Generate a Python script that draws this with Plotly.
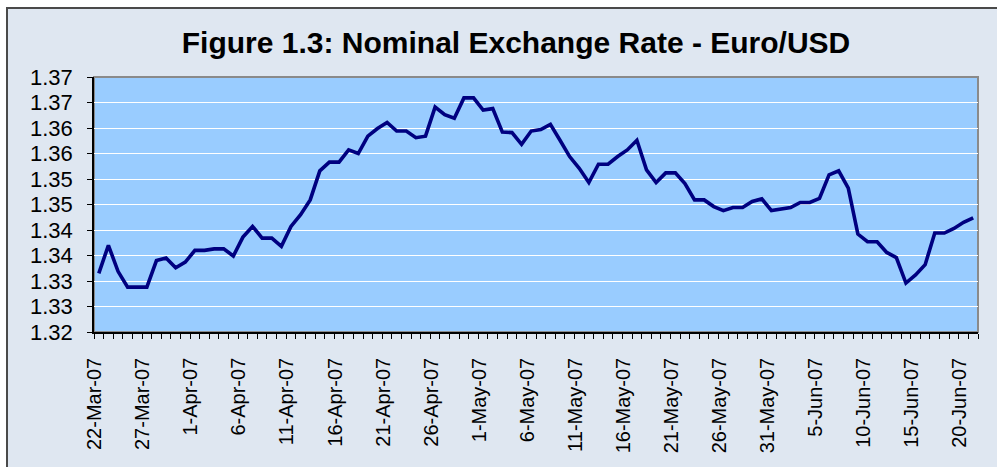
import pandas as pd
import plotly.graph_objects as go

# ---- data ----
dates = pd.date_range("2007-03-22", periods=92, freq="D")
rate = [
    1.3315, 1.3370, 1.3319, 1.3288, 1.3288, 1.3288, 1.3340, 1.3345, 1.3326, 1.3337,
    1.3360, 1.3360, 1.3363, 1.3363, 1.3349, 1.3386, 1.3407, 1.3384, 1.3384, 1.3368,
    1.3407, 1.3430, 1.3459, 1.3516, 1.3533, 1.3533, 1.3557, 1.3550, 1.3584, 1.3599,
    1.3611, 1.3594, 1.3594, 1.3581, 1.3584, 1.3641, 1.3626, 1.3619, 1.3659, 1.3659,
    1.3635, 1.3638, 1.3592, 1.3591, 1.3568, 1.3594, 1.3597, 1.3607, 1.3576, 1.3544,
    1.3521, 1.3493, 1.3529, 1.3529, 1.3544, 1.3557, 1.3576, 1.3518, 1.3493, 1.3512,
    1.3512, 1.3491, 1.3459, 1.3459, 1.3446, 1.3438, 1.3444, 1.3444, 1.3456, 1.3461,
    1.3438, 1.3441, 1.3444, 1.3454, 1.3454, 1.3462, 1.3508, 1.3516, 1.3482, 1.3392,
    1.3377, 1.3377, 1.3356, 1.3346, 1.3296, 1.3312, 1.3332, 1.3394, 1.3394, 1.3403,
    1.3415, 1.3424,
]
y_tickvals = [1.320, 1.325, 1.330, 1.335, 1.340, 1.345, 1.350, 1.355, 1.360, 1.365, 1.370]
y_ticktext = ["1.32", "1.33", "1.33", "1.34", "1.34", "1.35", "1.35", "1.36", "1.36", "1.37", "1.37"]
x_tickvals = [d for d in dates[::5]]

title_text = "Figure 1.3: Nominal Exchange Rate - Euro/USD"

fig = go.Figure()
fig.add_trace(go.Scatter(
    x=dates, y=rate, mode="lines",
    line=dict(color="#000080", width=3.6),
    hoverinfo="x+y", showlegend=False,
))

W, H = 997, 467
L, R, T, B = 94, 978, 77, 332
pw, ph = R - L, B - T

def px_x(p):
    return (p - L) / pw

def px_y(p):
    return (B - p) / ph

shapes = [
    # outer chart frame with background
    dict(type="rect", xref="paper", yref="paper",
         x0=px_x(7), x1=px_x(1005), y0=px_y(475), y1=px_y(8),
         fillcolor="#dfe7f1", line=dict(color="#4a4a4a", width=2), layer="below"),
    # plot area
    dict(type="rect", xref="paper", yref="paper",
         x0=0, x1=1, y0=0, y1=1,
         fillcolor="#99ccff", line=dict(color="#8a8a8a", width=2), layer="below"),
]

fig.update_layout(
    width=W, height=H,
    margin=dict(l=L, r=W - R, t=T, b=H - B, autoexpand=False),
    paper_bgcolor="white",
    plot_bgcolor="rgba(0,0,0,0)",
    font=dict(family="Liberation Sans, Arial, sans-serif", color="black"),
    title=dict(text=title_text, x=516 / W, xanchor="center", xref="container",
               y=1 - 42 / H, yanchor="middle", yref="container",
               font=dict(size=30, family="Liberation Sans, Arial, sans-serif", weight="bold", color="black")),
    shapes=shapes,
    showlegend=False,
)

fig.update_yaxes(
    range=[1.32, 1.37], tickvals=y_tickvals, ticktext=y_ticktext,
    ticks="outside", ticklen=5, tickcolor="black", tickwidth=1,
    showline=True, linecolor="black", linewidth=1.5,
    showgrid=True, gridcolor="white", gridwidth=1.2,
    zeroline=False, tickfont=dict(size=22, color="black"),
    ticklabelstandoff=10,
)

fig.update_xaxes(
    type="date",
    range=["2007-03-21 12:00", "2007-06-21 12:00"],
    tickvals=x_tickvals, tickformat="%-d-%b-%y", tickangle=-90,
    ticks="", showgrid=False, zeroline=False,
    showline=True, linecolor="black", linewidth=1.5,
    tickfont=dict(size=20, color="black"),
    ticklabelstandoff=16, ticklabelshift=-4,
    minor=dict(tick0="2007-03-21 12:00", dtick=86400000, ticks="outside",
               ticklen=5, tickcolor="black", tickwidth=1, showgrid=False),
)

fig.write_html("out.html", config={"displayModeBar": False},
               post_script="document.body.style.margin='0';document.body.style.padding='0';")
